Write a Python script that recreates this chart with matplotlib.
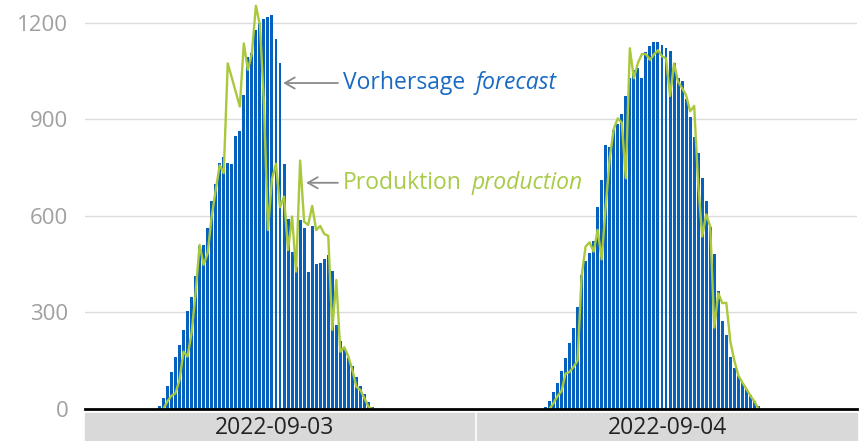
import numpy as np
import matplotlib.pyplot as plt
from matplotlib.patches import Rectangle

plt.rcParams['font.family'] = ['Open Sans', 'DejaVu Sans']

SLOTS_PER_DAY = 96   # quarter hours
FIRST_SLOT = 18      # first quarter hour with a value (04:30)
nan = np.nan

dates = ["2022-09-03", "2022-09-04"]

# forecast (bars) and production (line), one value per quarter hour from FIRST_SLOT
forecast_0903 = [10, 33, 71, 114, 161, 200, 247, 303, 348, 413,
                 505, 509, 564, 646, 699, 763, 782, 766, 761, 849,
                 864, 976, 1093, 1107, 1179, 1199, 1212, 1218, 1225, 1150,
                 1074, 761, 589, 488, 440, 588, 562, 427, 569, 451,
                 453, 466, 479, 430, 262, 210, 190, 160, 135, 98,
                 72, 46, 22, 5]
production_0903 = [nan, 0, 24, 41, 49, 90, 178, 163, 236, 360,
                   510, 448, 484, 598, 680, 758, 733, 1074, 1030, 985,
                   940, 1136, 1054, 1105, 1253, 1193, 950, 556, 715, 762,
                   627, 660, 494, 598, 427, 772, 582, 572, 631, 556,
                   569, 544, 538, 246, 401, 178, 192, 163, 121, 69,
                   59, 33, 7, 0]
forecast_0904 = [5, 25, 54, 82, 119, 159, 204, 251, 318, 416,
                 460, 486, 523, 629, 712, 821, 815, 867, 886, 918,
                 973, 1028, 1054, 1059, 1028, 1108, 1127, 1139, 1141, 1132,
                 1121, 1113, 1076, 1028, 1019, 964, 908, 846, 795, 717,
                 646, 567, 482, 367, 273, 230, 163, 127, 103, 80,
                 61, 44, 26, 9]
production_0904 = [nan, 0, 18, 40, 55, 110, 115, 131, 150, 412,
                   505, 518, 489, 557, 465, 629, 780, 870, 903, 890,
                   717, 1121, 1028, 1075, 1103, 1103, 1085, 1102, 1115, 1096,
                   1090, 973, 1074, 1017, 997, 975, 925, 942, 700, 536,
                   605, 567, 253, 360, 329, 330, 210, 150, 104, 82,
                   62, 41, 23, 0]

y_ticks = [0, 300, 600, 900, 1200]

BLUE = "#0560be"
BLUE_TEXT = "#1a6ac4"
GREEN = "#a9c83c"
GREEN_TEXT = "#a8cb48"
ARROW = "#8a8a8a"

fig = plt.figure(figsize=(8.59, 4.41), dpi=100)
ax = fig.add_axes([85 / 859, 32 / 441, 772 / 859, 409 / 441])

days = [(forecast_0903, production_0903), (forecast_0904, production_0904)]
for d, (fc, pr) in enumerate(days):
    x = d * SLOTS_PER_DAY + FIRST_SLOT + np.arange(len(fc))
    ax.bar(x, fc, width=0.74, color=BLUE, zorder=2)
    ax.plot(x, pr, color=GREEN, lw=1.7, zorder=3)

ax.set_xlim(-0.5, 2 * SLOTS_PER_DAY - 0.5)
ax.set_ylim(0, 1271)
ax.set_yticks(y_ticks)
ax.set_xticks([])
ax.grid(axis="y", color="#dcdcdc", lw=1)
ax.set_axisbelow(True)
for s in ["top", "right", "left"]:
    ax.spines[s].set_visible(False)
ax.spines["bottom"].set_color("black")
ax.spines["bottom"].set_linewidth(2)
ax.spines["bottom"].set_zorder(4)
ax.tick_params(axis="y", length=0, pad=12, labelsize=16, labelcolor="#a0a0a0")

# grey date bands below the axis
bands = [(0.0, 0.504), (0.508, 1.0)]
label_x = [0.245, 0.755]
for (x0, x1), lx, date in zip(bands, label_x, dates):
    ax.add_patch(Rectangle((x0, -0.078), x1 - x0, 0.068, transform=ax.transAxes,
                           color="#d9d9d9", clip_on=False, zorder=1))
    ax.text(lx, -0.046, date, transform=ax.transAxes, ha="center", va="center",
            fontsize=16.5, color="#222222")

# labels with arrows
arrow = dict(arrowstyle="->,head_length=0.7,head_width=0.4", color=ARROW, lw=1.3,
             shrinkA=0, shrinkB=0)
t1 = ax.text(63.7, 1013, "Vorhersage", ha="left", va="center", fontsize=16.5, color=BLUE_TEXT)
ax.annotate("forecast", xy=(1, 0), xycoords=t1, xytext=(7, 0), textcoords="offset points",
            ha="left", va="bottom", fontsize=16.5, style="italic", color=BLUE_TEXT)
ax.annotate("", xy=(48.8, 1013), xytext=(62.4, 1013), arrowprops=arrow)

t2 = ax.text(63.7, 703, "Produktion", ha="left", va="center", fontsize=16.5, color=GREEN_TEXT)
ax.annotate("production", xy=(1, 0), xycoords=t2, xytext=(7, 0), textcoords="offset points",
            ha="left", va="bottom", fontsize=16.5, style="italic", color=GREEN_TEXT)
ax.annotate("", xy=(54.5, 703), xytext=(62.4, 703), arrowprops=arrow)

fig.savefig("out.png", dpi=100)
